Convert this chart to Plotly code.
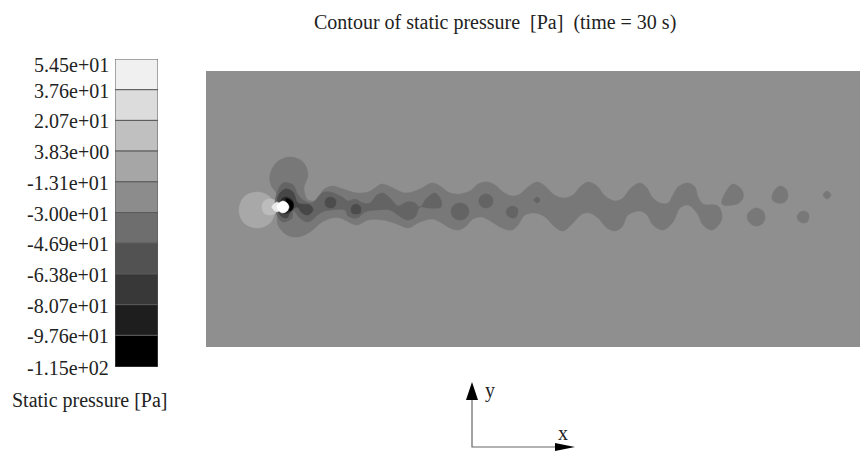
import plotly.graph_objects as go

FONT = "Liberation Serif"
TITLE = "Contour of static pressure\u00a0 [Pa]\u00a0 (time = 30 s)"
LEGEND_TITLE = "Static pressure [Pa]"

level_labels = ["5.45e+01","3.76e+01","2.07e+01","3.83e+00","-1.31e+01","-3.00e+01",
                "-4.69e+01","-6.38e+01","-8.07e+01","-9.76e+01","-1.15e+02"]
level_values = [54.5,37.6,20.7,3.83,-13.1,-30.0,-46.9,-63.8,-80.7,-97.6,-115.0]
level_colors = ["#f0f0f0","#dcdcdc","#c0c0c0","#a6a6a6","#8c8c8c","#6e6e6e",
                "#525252","#383838","#1e1e1e","#000000"]

background = "#8f8f8f"
stag_circle = [(257,192),(270,197),(275,210),(270,223),(257,228),(244,223),(239,210),(244,197)]
stag_ring = [(270,199),(276,201),(278,207),(276,213),(270,215),(264,213),(262,207),(264,201)]
stag_core = [(277,202),(280,204),(282,207),(280,210),(277,212),(274,210),(272,207),(274,204)]
wake_outer = [(270,175),(277,162),(290,157),(303,162),(308,175),(304,188),(308,200),(317,200),(323,190),
              (332,186),(340,188),(349,191),(357,193),(368,192),(375,188),(382,184),(393,188),(405,193),
              (420,189),(432,183),(440,186),(448,192),(455,194),(460,194),(470,191),(478,184),(487,182),
              (495,185),(503,192),(512,196),(520,194),(528,187),(537,182),(545,186),(553,194),(563,198),
              (573,195),(580,187),(588,182),(597,186),(605,196),(615,201),(623,198),(630,189),(640,183),
              (647,188),(652,197),(660,203),(668,203),(673,195),(678,187),(688,183),(695,187),(698,197),
              (703,204),(718,206),(722,215),(720,223),(712,230),(703,225),(697,213),(688,205),(680,208),
              (673,222),(663,230),(653,225),(647,215),(640,211),(628,215),(622,227),(615,231),(607,228),
              (598,218),(590,213),(582,214),(573,223),(563,231),(555,227),(545,217),(535,213),(525,215),
              (518,225),(512,230),(502,228),(492,222),(482,217),(473,219),(465,227),(458,230),(450,228),
              (440,222),(432,219),(420,222),(408,228),(397,224),(383,220),(368,220),(357,225),(340,218),
              (332,218),(322,222),(310,232),(298,237),(287,235),(278,225),(277,213),(275,205),(277,195),(271,185)]
tail_a = [(722,204),(727,190),(733,184),(742,190),(743,198),(737,204)]
tail_b = [(756,208),(763,211),(765,218),(762,224),(755,226),(749,222),(747,216),(750,211)]
tail_c = [(780,186),(786,189),(788,196),(785,202),(777,203),(772,199),(774,191)]
tail_d = [(803,211),(808,213),(809,217),(807,222),(803,223),(799,221),(797,217),(799,213)]
tail_e = [(827,191),(831,195),(827,199),(823,195)]
wake_mid = [(277,193),(283,183),(293,185),(298,195),(303,200),(312,203),(322,193),(330,192),(342,197),
            (348,201),(355,199),(363,203),(370,203),(377,195),(383,193),(390,198),(398,206),(407,202),
            (415,203),(420,207),(427,198),(435,193),(441,200),(441,207),(428,208),(420,207),(415,217),
            (407,220),(398,215),(390,210),(377,210),(365,212),(357,218),(348,216),(345,210),(332,210),
            (322,212),(308,222),(300,218),(293,210),(292,218),(283,222),(278,217),(275,205)]
mid_a = [(460,203),(467,206),(469,212),(466,218),(459,220),(453,217),(451,211),(454,205)]
mid_b = [(486,194),(491,196),(493,201),(491,206),(485,208),(480,205),(479,200),(481,196)]
mid_c = [(512,206),(517,208),(518,212),(516,217),(512,218),(508,216),(506,212),(508,208)]
mid_d = [(537,197),(540,200),(537,203),(534,200)]
head_dark = [(278,197),(285,189),(293,192),(298,203),(310,205),(313,210),(308,215),(302,213),(297,207),
             (290,213),(287,218),(280,215)]
blob_a = [(330,197),(335,199),(336,203),(334,207),(330,208),(326,206),(325,202),(326,199)]
blob_b = [(356,204),(360,206),(361,209),(360,213),(356,214),(352,213),(351,209),(352,206)]
head_darker = [(280,202),(285,197),(292,200),(293,207),(288,213),(282,213)]
head_black = [(286,199),(290,200),(293,203),(293,208),(290,211),(288,206)]
cylinder = [(283,201),(287,203),(289,207),(287,211),(283,213),(279,211),(277,207),(279,203)]

regions = [
    (stag_circle, "#a8a8a8"), (stag_ring, "#bcbcbc"), (stag_core, "#dcdcdc"),
    (wake_outer, "#787878"), (tail_a, "#787878"), (tail_b, "#787878"), (tail_c, "#787878"),
    (tail_d, "#787878"), (tail_e, "#787878"),
    (wake_mid, "#646464"), (mid_a, "#646464"), (mid_b, "#646464"), (mid_c, "#646464"), (mid_d, "#646464"),
    (head_dark, "#474747"), (blob_a, "#4c4c4c"), (blob_b, "#4c4c4c"),
    (head_darker, "#262626"), (head_black, "#000000"), (stag_core, "#e8e8e8"), (cylinder, "#ffffff"),
]

fig = go.Figure()
for pts, col in regions:
    xs, ys = zip(*(pts + pts[:1]))
    fig.add_trace(go.Scatter(x=xs, y=ys, mode="lines", fill="toself", fillcolor=col,
                             line=dict(color=col, width=0.5, shape="spline", smoothing=1),
                             hoverinfo="skip", showlegend=False, xaxis="x", yaxis="y"))

for i, col in enumerate(level_colors):
    fig.add_trace(go.Bar(x=[0], y=[level_values[i]-level_values[i+1]], base=[level_values[i+1]],
                         width=1, marker=dict(color=col, line=dict(color="#5a5a5a", width=1)),
                         hoverinfo="skip", showlegend=False, xaxis="x2", yaxis="y2"))

W, H = 860, 451
TEXT = dict(family=FONT, size=20, color="#222222")
def label(text, x, y, size=20):
    return dict(text=text, xref="paper", yref="paper", x=x/W, y=1-y/H, showarrow=False,
                xanchor="center", yanchor="middle", font=dict(family=FONT, size=size, color="#222222"))
annotations = [
    label(TITLE, 495, 22, 20),
    label(LEGEND_TITLE, 90, 400, 20),
    label("y", 490, 390),
    label("x", 563, 433),
]
for i, (lab, val) in enumerate(zip(level_labels, level_values)):
    annotations.append(dict(text=lab, xref="x2 domain", yref="y2", x=0, y=val, xanchor="right",
                            xshift=-4, yshift=-6 if i == 0 else -1, showarrow=False, font=TEXT))

def px(x, y):
    return f"{x/W:.5f},{1-y/H:.5f}"

shapes = [
    dict(type="path", xref="paper", yref="paper", line=dict(color="#666666", width=1.2),
         path=f"M{px(472,398)} L{px(472,447)} L{px(558,447)}"),
    dict(type="path", xref="paper", yref="paper", fillcolor="#000000", line=dict(width=0),
         path=f"M{px(472,382)} L{px(466,400)} L{px(478,400)} Z"),
    dict(type="path", xref="paper", yref="paper", fillcolor="#000000", line=dict(width=0),
         path=f"M{px(575,447)} L{px(555,443)} L{px(555,451)} Z"),
]

fig.update_layout(
    width=W, height=H, margin=dict(l=0, r=0, t=0, b=0, autoexpand=False),
    paper_bgcolor="white", plot_bgcolor=background, barmode="overlay",
    annotations=annotations, shapes=shapes,
    xaxis=dict(domain=[206/W, 1], range=[206, 860], visible=False),
    yaxis=dict(domain=[1-347/H, 1-71/H], range=[347, 71], visible=False),
    xaxis2=dict(domain=[115/W, 158/W], range=[-0.5, 0.5], visible=False, anchor="y2"),
    yaxis2=dict(domain=[1-367/H, 1-59/H], range=[-115, 54.5], visible=False, anchor="x2"),
)
fig.write_html("out.html", config=dict(displayModeBar=False),
               post_script="document.body.style.margin='0';document.body.style.overflow='hidden';")
